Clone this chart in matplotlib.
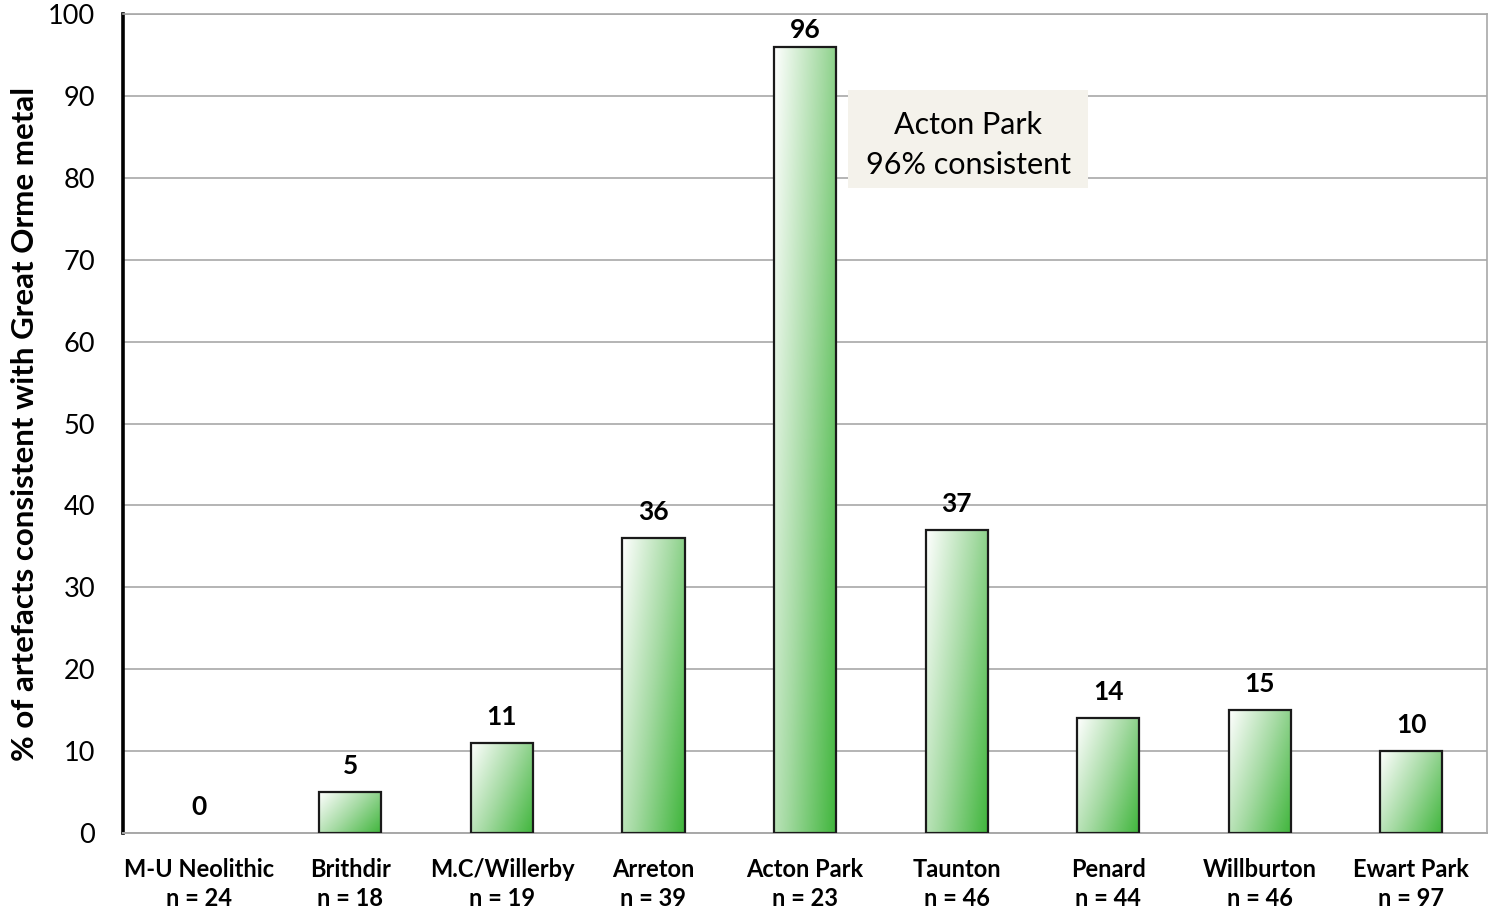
import numpy as np
import matplotlib.pyplot as plt
from matplotlib.colors import LinearSegmentedColormap
from matplotlib.patches import Rectangle

plt.rcParams['font.family'] = ['Lato', 'DejaVu Sans']

groups = ['M-U Neolithic', 'Brithdir', 'M.C/Willerby', 'Arreton', 'Acton Park',
          'Taunton', 'Penard', 'Willburton', 'Ewart Park']
n_sizes = [24, 18, 19, 39, 23, 46, 44, 46, 97]
pct_consistent = [0, 5, 11, 36, 96, 37, 14, 15, 10]

fig = plt.figure(figsize=(14.9, 9.11), dpi=100)
ax = fig.add_axes([0.0826, 0.0856, 0.9154, 0.899])

x = np.arange(len(groups))
bars = ax.bar(x, pct_consistent, width=0.41, facecolor='none',
              edgecolor='#1a1a1a', linewidth=1.6, zorder=3)

# diagonal white-to-green fill inside each bar (mostly left to right)
green = LinearSegmentedColormap.from_list('wg', ['#ffffff', '#a4daa2', '#3fb53b'])
u, v = np.meshgrid(np.linspace(0, 1, 128), np.linspace(0, 1, 128))
grad = 0.62 * u + 0.38 * v   # row 0 is the top of the image
for b in bars:
    if b.get_height() <= 0:
        b.set_linewidth(0)
        continue
    x0, w, h = b.get_x(), b.get_width(), b.get_height()
    im = ax.imshow(grad, cmap=green, vmin=0, vmax=1, aspect='auto',
                   extent=(x0, x0 + w, 0, h), origin='upper',
                   zorder=2, interpolation='bilinear')
    im.set_clip_path(b)

# value labels, kept inside the plot area near the top
for xi, v in zip(x, pct_consistent):
    ax.text(xi, min(v + 3.2, 98.0), str(v), ha='center', va='center',
            fontsize=19, fontweight='bold', zorder=5)

ax.set_xlim(-0.5, len(groups) - 0.5)
ax.set_ylim(0, 100)
ax.set_yticks(range(0, 101, 10))
ax.set_xticks(x)
ax.set_xticklabels([f'{g}\nn = {n}' for g, n in zip(groups, n_sizes)],
                   fontsize=17, fontweight='bold', linespacing=1.3)
ax.tick_params(axis='x', length=0, pad=18)
ax.tick_params(axis='y', length=0, pad=20, labelsize=19.5)
ax.grid(axis='y', color='#a8a8a8', linewidth=1.2, zorder=0)
ax.set_axisbelow(True)

for s in ['top', 'right']:
    ax.spines[s].set_color('#a8a8a8')
    ax.spines[s].set_linewidth(1.2)
ax.spines['bottom'].set_color('#a8a8a8')
ax.spines['bottom'].set_linewidth(1.4)
ax.spines['left'].set_color('black')
ax.spines['left'].set_linewidth(2.6)

ax.set_ylabel('% of artefacts consistent with Great Orme metal', fontsize=22.5,
              fontweight='bold')
ax.yaxis.set_label_coords(-0.062, 0.5)

# callout for the peak
ax.add_patch(Rectangle((4.285, 78.7), 1.585, 12.0, facecolor='#f4f2eb',
                       edgecolor='none', zorder=4))
ax.text(5.078, 84.0, 'Acton Park\n96% consistent', ha='center', va='center',
        fontsize=22, linespacing=1.55, zorder=5)

fig.savefig('out.png', dpi=100)
